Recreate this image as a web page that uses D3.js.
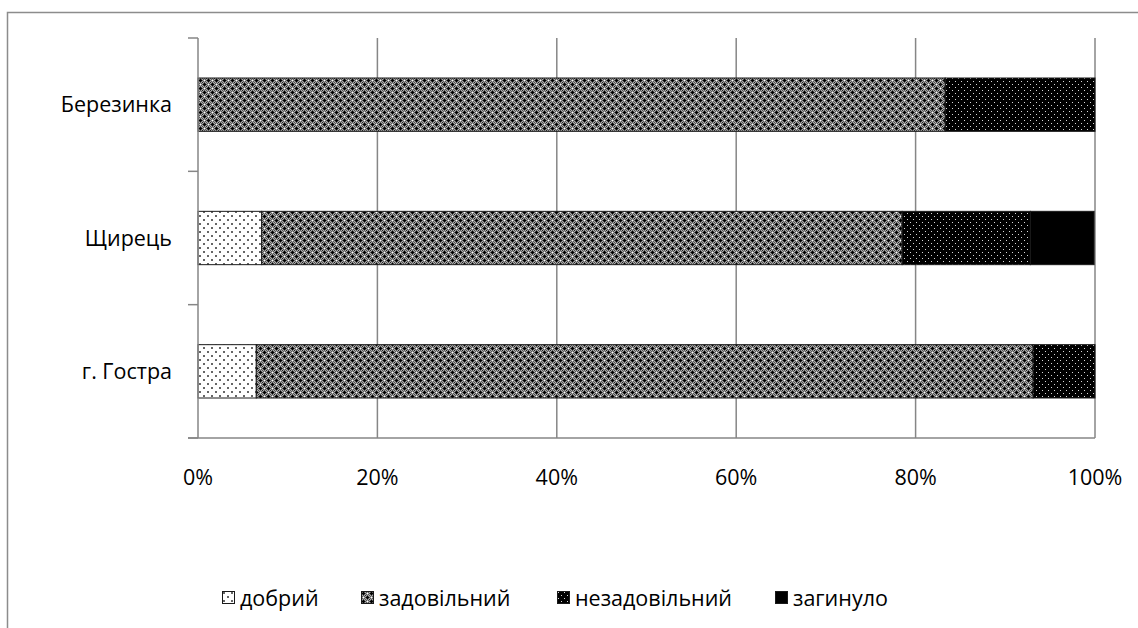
<!DOCTYPE html>
<html>
<head>
<meta charset="utf-8">
<script src="https://cdn.jsdelivr.net/npm/d3@7"></script>
<style>
  html, body { margin: 0; padding: 0; background: #fff; }
  svg { display: block; font-family: "Open Sans", "Noto Sans", sans-serif; }
</style>
</head>
<body>
<svg id="chart" width="1138" height="628"></svg>
<script>
// Sites (top to bottom) and condition shares, in percent
const sites = ["Березинка", "Щирець", "г. Гостра"];
const classes = ["добрий", "задовільний", "незадовільний", "загинуло"];
const good          = [0,    7.1,  6.5];
const satisfactory  = [83.3, 71.4, 86.6];
const unsatisfactory= [16.7, 14.3, 6.9];
const dead          = [0,    7.1,  0];
const tickValues = [0, 20, 40, 60, 80, 100];

const seriesValues = [good, satisfactory, unsatisfactory, dead];
const rows = sites.map((s, i) => {
  const r = { site: s };
  classes.forEach((c, k) => r[c] = seriesValues[k][i]);
  return r;
});

const svg = d3.select("#chart");
const W = 1138, H = 628;
const margin = { left: 198, right: 43, top: 38, bottom: 190 };
const innerW = W - margin.left - margin.right;
const innerH = H - margin.top - margin.bottom;
const FONT = 21.5;

// Fill patterns for each class
const defs = svg.append("defs");
function tile(id, size, bg, cells) {
  const p = defs.append("pattern").attr("id", id)
    .attr("patternUnits", "userSpaceOnUse").attr("width", size).attr("height", size);
  p.append("rect").attr("width", size).attr("height", size).attr("fill", bg);
  cells.forEach(([x, y, w, h, c]) => p.append("rect").attr("x", x).attr("y", y)
    .attr("width", w).attr("height", h).attr("fill", c).attr("shape-rendering", "crispEdges"));
}
// sparse grey dots on white
tile("p-good", 8, "#ffffff", [[1, 1, 2, 2, "#666"], [5, 5, 2, 2, "#666"]]);
// light dots on black
tile("p-unsat", 6, "#000000", [[1, 1, 1, 1, "#d8d8d8"], [4, 4, 1, 1, "#d8d8d8"]]);
// lattice of black crosses on a grey checker with white dots
{
  const cells = [];
  for (let i = 0; i < 8; i++) for (let j = 0; j < 8; j++)
    if ((i + j) % 2 === 0) cells.push([i, j, 1, 1, "#555"]);
    else cells.push([i, j, 1, 1, "#aaa"]);
  cells.push([1, 2, 3, 1, "#000"], [2, 1, 1, 3, "#000"]);
  cells.push([5, 6, 3, 1, "#000"], [6, 5, 1, 3, "#000"]);
  cells.push([6, 2, 1, 1, "#fff"], [2, 6, 1, 1, "#fff"]);
  cells.push([0, 0, 1, 1, "#222"], [4, 4, 1, 1, "#222"]);
  tile("p-sat", 8, "#888", cells);
}
const fills = {
  "добрий": "url(#p-good)",
  "задовільний": "url(#p-sat)",
  "незадовільний": "url(#p-unsat)",
  "загинуло": "#000"
};

// Outer chart frame
svg.append("path")
  .attr("d", `M7.5,628 V12.5 H1138`)
  .attr("fill", "none").attr("stroke", "#8c8c8c").attr("stroke-width", 1.5);

const g = svg.append("g").attr("transform", `translate(${margin.left},${margin.top})`);

const x = d3.scaleLinear().domain([0, 100]).range([0, innerW]);
const y = d3.scaleBand().domain(sites).range([0, innerH]).paddingInner(0.6).paddingOuter(0.3);
const yBand = d3.scaleBand().domain(sites).range([0, innerH]);

// Vertical gridlines
g.append("g").selectAll("line").data(tickValues.slice(1)).join("line")
  .attr("x1", d => x(d)).attr("x2", d => x(d))
  .attr("y1", 0).attr("y2", innerH)
  .attr("stroke", "#868686").attr("stroke-width", 1.5);

// Stacked bars
const stack = d3.stack().keys(classes)(rows);
const layers = g.append("g").selectAll("g").data(stack).join("g")
  .attr("fill", d => fills[d.key]);
layers.selectAll("rect").data(d => d.filter(s => s[1] - s[0] > 0)).join("rect")
  .attr("x", d => x(d[0]))
  .attr("width", d => x(d[1]) - x(d[0]))
  .attr("y", d => y(d.data.site))
  .attr("height", y.bandwidth())
  .attr("stroke", "#1a1a1a").attr("stroke-width", 1);

// Category axis with ticks between bands
const yAxisG = g.append("g");
yAxisG.append("line").attr("x1", 0).attr("x2", 0).attr("y1", 0).attr("y2", innerH)
  .attr("stroke", "#868686").attr("stroke-width", 1.5);
const bandEdges = [0].concat(sites.map(s => yBand(s) + yBand.bandwidth()));
yAxisG.selectAll("line.tick").data(bandEdges).join("line").attr("class", "tick")
  .attr("x1", -10).attr("x2", 0).attr("y1", d => d).attr("y2", d => d)
  .attr("stroke", "#868686").attr("stroke-width", 1.5);
yAxisG.selectAll("text").data(sites).join("text")
  .attr("x", -26).attr("y", d => yBand(d) + yBand.bandwidth() / 2)
  .attr("dy", "0.35em").attr("text-anchor", "end")
  .attr("font-size", FONT).attr("fill", "#000").text(d => d);

// Value axis
const xAxisG = g.append("g").attr("transform", `translate(0,${innerH})`);
xAxisG.append("line").attr("x1", 0).attr("x2", innerW).attr("stroke", "#868686").attr("stroke-width", 1.5);
xAxisG.append("line").attr("x1", -10).attr("x2", 0).attr("stroke", "#868686").attr("stroke-width", 1.5);
xAxisG.selectAll("text").data(tickValues).join("text")
  .attr("x", d => x(d)).attr("y", 39).attr("dy", "0.35em").attr("text-anchor", "middle")
  .attr("font-size", FONT).attr("fill", "#000").text(d => d + "%");

// Legend
const legendX = [222, 361, 557, 775];
const legend = svg.append("g").attr("transform", "translate(0,591)");
const items = legend.selectAll("g").data(classes).join("g")
  .attr("transform", (d, i) => `translate(${legendX[i]},0)`);
items.append("rect").attr("x", 0.5).attr("y", 0.5).attr("width", 12).attr("height", 12)
  .attr("fill", d => fills[d]).attr("stroke", "#1a1a1a").attr("stroke-width", 1);
items.append("text").attr("x", 18).attr("y", 7).attr("dy", "0.35em")
  .attr("font-size", FONT).attr("fill", "#000").text(d => d);
</script>
</body>
</html>
